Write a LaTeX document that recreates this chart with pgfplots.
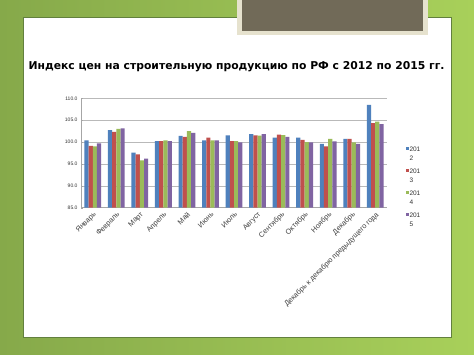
\documentclass[border=0pt]{standalone}
\usepackage{fontspec}
\setmainfont{Liberation Sans}
\newfontfamily\titlefont{DejaVu Sans}
\usepackage{pgfplots}
\usepackage{pgfplotstable}
\pgfplotsset{compat=1.18}
\definecolor{c1}{HTML}{4F81BD}
\definecolor{c2}{HTML}{C0504D}
\definecolor{c3}{HTML}{9BBB59}
\definecolor{c4}{HTML}{8064A2}
\definecolor{bgL}{HTML}{86A94A}
\definecolor{bgR}{HTML}{A8D05A}
\definecolor{brownbox}{HTML}{716A58}
\definecolor{beigebox}{HTML}{E6E2CE}
\definecolor{panelborder}{HTML}{62803E}
\newcommand{\legtxt}[1]{\parbox[t]{14pt}{\fontsize{6.5}{9}\selectfont 201\\#1}}
\pgfplotstableread{
x a b c d
0 100.4 99.1 99.0 99.7
1 102.7 102.3 103.0 103.1
2 97.6 97.2 95.8 96.2
3 100.2 100.2 100.4 100.2
4 101.4 101.2 102.5 102.1
5 100.4 101.0 100.4 100.4
6 101.5 100.2 100.2 99.9
7 101.8 101.5 101.45 101.8
8 101.0 101.7 101.6 101.2
9 101.0 100.5 100.0 99.9
10 99.6 99.0 100.7 100.15
11 100.7 100.7 99.9 99.6
12 108.5 104.35 104.65 104.1
}\datatable
\begin{document}
\begin{tikzpicture}
\shade[left color=bgL, right color=bgR] (0pt,0pt) rectangle (474pt,355pt);
\fill[white] (23pt,18pt) rectangle (451pt,338pt);
\draw[panelborder, line width=0.8pt] (23pt,18pt) rectangle (451pt,338pt);
\fill[beigebox] (237pt,320pt) rectangle (428pt,355pt);
\fill[brownbox] (242pt,324pt) rectangle (423pt,355pt);
\node[font=\titlefont\bfseries\fontsize{10.8}{13}\selectfont] at (236.5pt,288.5pt) {Индекс цен на строительную продукцию по РФ с 2012 по 2015 гг.};
\begin{axis}[
  at={(81pt,147.3pt)}, anchor=south west,
  scale only axis, width=306pt, height=109.4pt,
  xmin=-0.5, xmax=12.5, ymin=85, ymax=110,
  ybar=0pt, bar width=4.2pt,
  xtick={0,...,12},
  xticklabels={Январь,Февраль,Март,Апрель,Май,Июнь,Июль,Август,Сентябрь,Октябрь,Ноябрь,Декабрь,Декабрь к декабрю предыдущего года},
  x tick label style={rotate=45, anchor=north east, font=\fontsize{7.3}{8}\selectfont, inner sep=1pt, text=black!75},
  ytick={85,90,...,110},
  yticklabel style={/pgf/number format/fixed, /pgf/number format/fixed zerofill, /pgf/number format/precision=1, font=\fontsize{5}{6}\selectfont, text=black!80},
  /pgf/number format/assume math mode=true,
  ymajorgrids, grid style={gray!55, line width=0.5pt},
  axis x line*=bottom, axis y line*=left,
  axis line style={gray!70, line width=0.5pt},
  x tick style={draw=none},
  y tick style={gray!70},
  major tick length=2pt,
  legend style={at={(1.05,0.59)}, anchor=north west, draw=none, fill=none, row sep=5pt, legend cell align=left, font=\fontsize{6.5}{9}\selectfont, text=black!80, nodes={text height=5pt, text depth=10pt, inner sep=1pt}},
  legend image code/.code={\fill[#1] (0pt,3.4pt) rectangle (3pt,6.4pt);},
]
\addplot[fill=c1, draw=none] table[x=x, y=a] {\datatable};
\addplot[fill=c2, draw=none] table[x=x, y=b] {\datatable};
\addplot[fill=c3, draw=none] table[x=x, y=c] {\datatable};
\addplot[fill=c4, draw=none] table[x=x, y=d] {\datatable};
\legend{{\legtxt{2}},{\legtxt{3}},{\legtxt{4}},{\legtxt{5}}}
\end{axis}
\pgfresetboundingbox
\path (0pt,0pt) rectangle (474pt,355pt);
\end{tikzpicture}
\end{document}
